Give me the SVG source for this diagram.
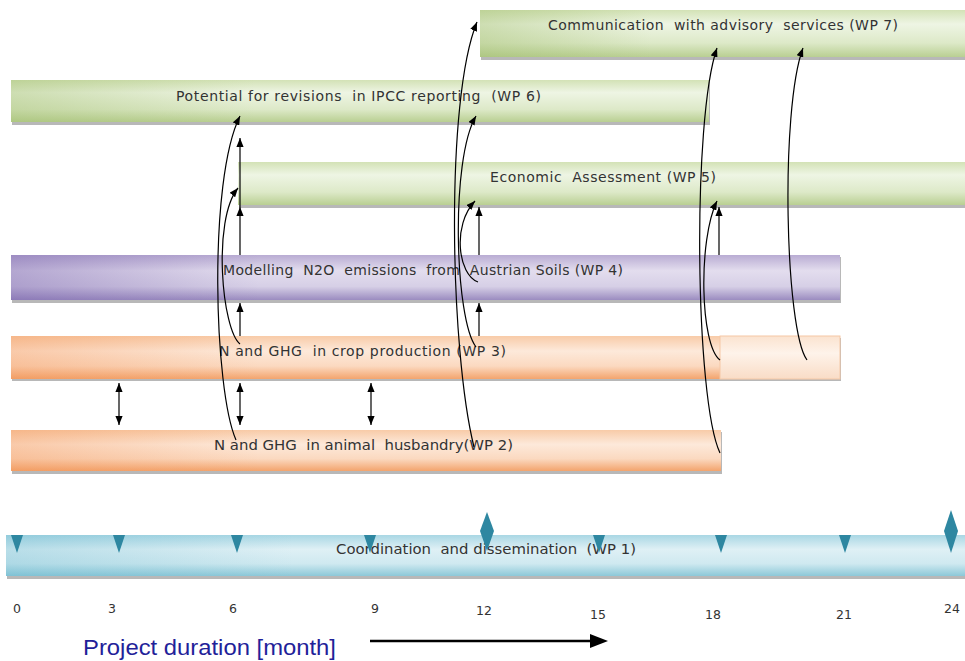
<svg xmlns="http://www.w3.org/2000/svg" width="965" height="661" viewBox="0 0 965 661">
<defs>
<linearGradient id="gGreen" x1="0" y1="0" x2="0" y2="1">
<stop offset="0" stop-color="#d3e2b6"/><stop offset="0.3" stop-color="#eef5e4"/><stop offset="0.7" stop-color="#dde9c8"/><stop offset="1" stop-color="#b9cf92"/>
</linearGradient>
<linearGradient id="gPurple" x1="0" y1="0" x2="0" y2="1">
<stop offset="0" stop-color="#b9acd3"/><stop offset="0.35" stop-color="#e3ddee"/><stop offset="0.7" stop-color="#d6cfe6"/><stop offset="1" stop-color="#9b8cc0"/>
</linearGradient>
<linearGradient id="gOrange" x1="0" y1="0" x2="0" y2="1">
<stop offset="0" stop-color="#f8cba8"/><stop offset="0.35" stop-color="#fde9da"/><stop offset="0.7" stop-color="#fbd9c0"/><stop offset="1" stop-color="#f3a46d"/>
</linearGradient>
<linearGradient id="gOrangeL" x1="0" y1="0" x2="0" y2="1">
<stop offset="0" stop-color="#fbe3d0"/><stop offset="0.4" stop-color="#fef3ea"/><stop offset="1" stop-color="#f9dcc6"/>
</linearGradient>
<linearGradient id="gCyan" x1="0" y1="0" x2="0" y2="1">
<stop offset="0" stop-color="#a9d7e4"/><stop offset="0.35" stop-color="#dff0f5"/><stop offset="0.7" stop-color="#cfe9f0"/><stop offset="1" stop-color="#8cc8d8"/>
</linearGradient>
<linearGradient id="sG" x1="0" y1="0" x2="1" y2="0">
<stop offset="0" stop-color="#9dbb68" stop-opacity="0.4"/><stop offset="0.35" stop-color="#9dbb68" stop-opacity="0"/>
</linearGradient>
<linearGradient id="sP" x1="0" y1="0" x2="1" y2="0">
<stop offset="0" stop-color="#7a64ad" stop-opacity="0.45"/><stop offset="0.3" stop-color="#7a64ad" stop-opacity="0"/>
</linearGradient>
<linearGradient id="sO" x1="0" y1="0" x2="1" y2="0">
<stop offset="0" stop-color="#f29050" stop-opacity="0.35"/><stop offset="0.35" stop-color="#f29050" stop-opacity="0"/>
</linearGradient>
<linearGradient id="sC" x1="0" y1="0" x2="1" y2="0">
<stop offset="0" stop-color="#5fb3cb" stop-opacity="0.3"/><stop offset="0.3" stop-color="#5fb3cb" stop-opacity="0"/>
</linearGradient>
<marker id="ah" viewBox="0 0 10 8" refX="10" refY="4" markerWidth="9" markerHeight="7.2" markerUnits="userSpaceOnUse" orient="auto-start-reverse">
<path d="M0,0 L10,4 L0,8 z" fill="#000"/>
</marker>
</defs>
<style>
.sh{fill:#9a9a9a;opacity:0.7}
.lbl{font-family:"DejaVu Sans",Verdana,sans-serif;font-size:14px;fill:#333;white-space:pre}
.lbn{font-family:"DejaVu Sans",Verdana,sans-serif;font-size:13.5px;fill:#333;white-space:pre}
.ax{font-family:"DejaVu Sans",Verdana,sans-serif;font-size:12.5px;fill:#333;}
.con{fill:none;stroke:#000;stroke-width:1.2;marker-end:url(#ah)}
.dbl{fill:none;stroke:#000;stroke-width:1.2;marker-end:url(#ah);marker-start:url(#ah)}
.mk{fill:#2e87a1}
</style>
<rect width="965" height="661" fill="#fff"/>

<g id="wp7">
<rect class="sh" x="481" y="12" width="490" height="48"/>
<rect x="480" y="10" width="490" height="47" fill="url(#gGreen)"/>
<rect x="480" y="10" width="490" height="47" fill="url(#sG)"/>
<text class="lbl" x="548" y="30" textLength="350" lengthAdjust="spacing">Communication  with advisory  services (WP 7)</text>
</g>
<g id="wp6">
<rect class="sh" x="12" y="82" width="698" height="43"/>
<rect x="11" y="80" width="698" height="42" fill="url(#gGreen)"/>
<rect x="11" y="80" width="698" height="42" fill="url(#sG)"/>
<text class="lbl" x="176" y="101" textLength="365" lengthAdjust="spacing">Potential for revisions  in IPCC reporting  (WP 6)</text>
</g>
<g id="wp5">
<rect class="sh" x="239" y="164" width="730" height="44"/>
<rect x="238" y="162" width="730" height="43" fill="url(#gGreen)"/>
<text class="lbl" x="490" y="182" textLength="226" lengthAdjust="spacing">Economic  Assessment (WP 5)</text>
</g>
<g id="wp4">
<rect class="sh" x="12" y="257" width="829" height="46"/>
<rect x="11" y="255" width="829" height="45" fill="url(#gPurple)"/>
<rect x="11" y="255" width="829" height="45" fill="url(#sP)"/>
<text class="lbl" x="223" y="275" textLength="400" lengthAdjust="spacing">Modelling  N2O  emissions  from  Austrian Soils (WP 4)</text>
</g>
<g id="wp3">
<rect class="sh" x="12" y="338" width="829" height="43"/>
<rect x="11" y="336" width="709" height="43" fill="url(#gOrange)"/>
<rect x="11" y="336" width="709" height="43" fill="url(#sO)"/>
<rect x="720" y="336" width="120" height="43" fill="url(#gOrangeL)" stroke="#f5c8a6" stroke-width="1"/>
<text class="lbl" x="219" y="356" textLength="287" lengthAdjust="spacing">N and GHG  in crop production (WP 3)</text>
</g>
<g id="wp2">
<rect class="sh" x="12" y="432" width="710" height="42"/>
<rect x="11" y="430" width="710" height="41" fill="url(#gOrange)"/>
<rect x="11" y="430" width="710" height="41" fill="url(#sO)"/>
<text class="lbn" x="214" y="450" textLength="299" lengthAdjust="spacingAndGlyphs">N and GHG  in animal  husbandry(WP 2)</text>
</g>
<g id="wp1">
<rect class="sh" x="7" y="537" width="960" height="42"/>
<rect x="6" y="535" width="960" height="41" fill="url(#gCyan)"/>
<rect x="6" y="535" width="960" height="41" fill="url(#sC)"/>
<text class="lbn" x="336" y="554" textLength="300" lengthAdjust="spacingAndGlyphs">Coordination  and dissemination  (WP 1)</text>
<path class="mk" d="M11,535 L23,535 L17,553 z"/>
<path class="mk" d="M113,535 L125,535 L119,553 z"/>
<path class="mk" d="M231,535 L243,535 L237,553 z"/>
<path class="mk" d="M364,535 L376,535 L370,553 z"/>
<path class="mk" d="M593,535 L605,535 L599,553 z"/>
<path class="mk" d="M715,535 L727,535 L721,553 z"/>
<path class="mk" d="M839,535 L851,535 L845,553 z"/>
<path class="mk" d="M487,512 L494,531 L487,551 L480,531 z"/>
<path class="mk" d="M951,510 L958,531 L951,553 L944,531 z"/>
</g>

<g id="axis">
<text class="ax" x="17" y="613" text-anchor="middle">0</text>
<text class="ax" x="112" y="613" text-anchor="middle">3</text>
<text class="ax" x="233" y="613" text-anchor="middle">6</text>
<text class="ax" x="375" y="613" text-anchor="middle">9</text>
<text class="ax" x="484" y="615" text-anchor="middle">12</text>
<text class="ax" x="598" y="619" text-anchor="middle">15</text>
<text class="ax" x="713" y="619" text-anchor="middle">18</text>
<text class="ax" x="844" y="619" text-anchor="middle">21</text>
<text class="ax" x="952" y="613" text-anchor="middle">24</text>
<text x="83" y="655" font-family="'Liberation Sans Narrow','Liberation Sans',Arial,sans-serif" font-size="22" fill="#1f2299" textLength="253" lengthAdjust="spacingAndGlyphs">Project duration [month]</text>
<line x1="370" y1="641" x2="593" y2="641" stroke="#000" stroke-width="2.5"/>
<path d="M590,634 L608,641 L590,648 z" fill="#000"/>
</g>

<g id="connectors">
<line class="con" x1="240" y1="336" x2="240" y2="303"/>
<line class="con" x1="240" y1="255" x2="240" y2="207"/>
<line class="con" x1="240" y1="207" x2="240" y2="138"/>
<line class="con" x1="479" y1="336" x2="479" y2="303"/>
<line class="con" x1="479" y1="255" x2="479" y2="207"/>
<line class="con" x1="719" y1="255" x2="719" y2="207"/>
<line class="dbl" x1="119" y1="383" x2="119" y2="425"/>
<line class="dbl" x1="240" y1="383" x2="240" y2="425"/>
<line class="dbl" x1="371" y1="383" x2="371" y2="425"/>
<path class="con" d="M236,440 C214,390 208,180 240,116"/>
<path class="con" d="M240,344 C222,330 212,220 238,188"/>
<path class="con" d="M474,447 C450,350 445,100 477,22"/>
<path class="con" d="M476,347 C455,320 450,160 476,116"/>
<path class="con" d="M478,282 C458,275 452,225 475,201"/>
<path class="con" d="M720,453 C695,400 692,120 717,48"/>
<path class="con" d="M720,360 C700,345 698,240 717,201"/>
<path class="con" d="M807,360 C785,330 780,110 803,48"/>
</g>
</svg>
